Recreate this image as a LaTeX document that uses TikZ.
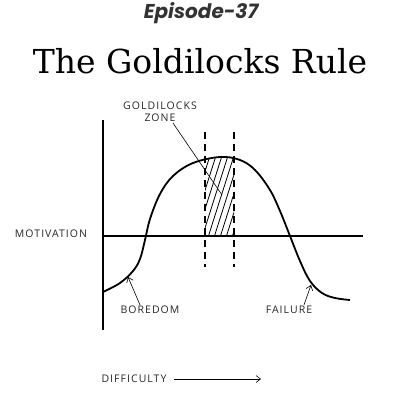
\documentclass[tikz,border=0pt]{standalone}
\usepackage{fontspec}
\usepackage{tikz}
\usetikzlibrary{arrows, arrows.meta, positioning, calc}
\newfontfamily\labelfont[LetterSpace=10]{Open Sans}
\newfontfamily\episodefont{Poppins}
\newfontfamily\titlefont{DejaVu Serif}
\tikzstyle{axislabel} = [font=\labelfont\fontsize{10.5}{12}\selectfont, text=black!85, inner sep=1pt]
\tikzstyle{arrow} = [line width=0.6pt,-{Straight Barb[length=4.5pt,width=7pt]}]
\tikzstyle{axis} = [line width=1.6pt]
\tikzstyle{zone} = [line width=1.2pt, dash pattern=on 7pt off 5pt]

\begin{document}
\begin{tikzpicture}[x=1pt, y=-1pt]
    \useasboundingbox (0,0) rectangle (400,400);

    % Headings
    \node (episode) at (201,13) {\episodefont\bfseries\itshape\fontsize{20}{22}\selectfont\color{black!80}Episode-37};
    \node (title) at (200,61) {\titlefont\fontsize{33}{36}\selectfont The Goldilocks Rule};

    % Axes
    \draw[axis] (103,120) -- (103,330);
    \draw[axis] (103,236) -- (363,236);

    % Goldilocks band
    \draw[zone] (205,132) -- (205,267);
    \draw[zone] (234,132) -- (234,267);
    \begin{scope}
        \clip (205,236) rectangle (234,150);
        \clip plot[smooth] coordinates {(173,176) (193,163) (220,157) (240,160) (255,170)} -- (255,236) -- (173,236) -- cycle;
        \foreach \k in {0,6,...,90}
            \draw[line width=0.8pt] (180+\k,250) -- (215+\k,140);
    \end{scope}

    % Motivation curve
    \draw[line width=1.8pt, line join=round] plot[smooth, tension=0.6] coordinates {(103,292) (120,283) (133,271) (140,259) (145,240) (150,219) (160,194) (173,176) (193,163) (220,157) (240,160) (255,170) (270,190) (280,211) (290,236) (300,261) (310,281) (322,293) (335,298) (350,300)};

    % Labels
    \node[axislabel] (motivation) at (51,234) {MOTIVATION};
    \node[axislabel, align=center] (goldilocks) at (160,112) {GOLDILOCKS\\ZONE};
    \node[axislabel] (boredom) at (150,310) {BOREDOM};
    \node[axislabel] (failure) at (289,310) {FAILURE};
    \node[axislabel] (difficulty) at (134,379) {DIFFICULTY};

    % Pointers
    \coordinate (zonetip) at (222,195);
    \coordinate (boredtip) at (128,277);
    \coordinate (failtip) at (311,285);
    \coordinate (diffend) at (261,379);
    \draw[line width=0.6pt] ([xshift=13pt]goldilocks.south) -- (zonetip);
    \draw[arrow] ([xshift=-10pt]boredom.north) -- (boredtip);
    \draw[arrow] ([xshift=15pt]failure.north) -- (failtip);
    \draw[arrow] ([xshift=6pt]difficulty.east) -- (diffend);
\end{tikzpicture}
\end{document}
